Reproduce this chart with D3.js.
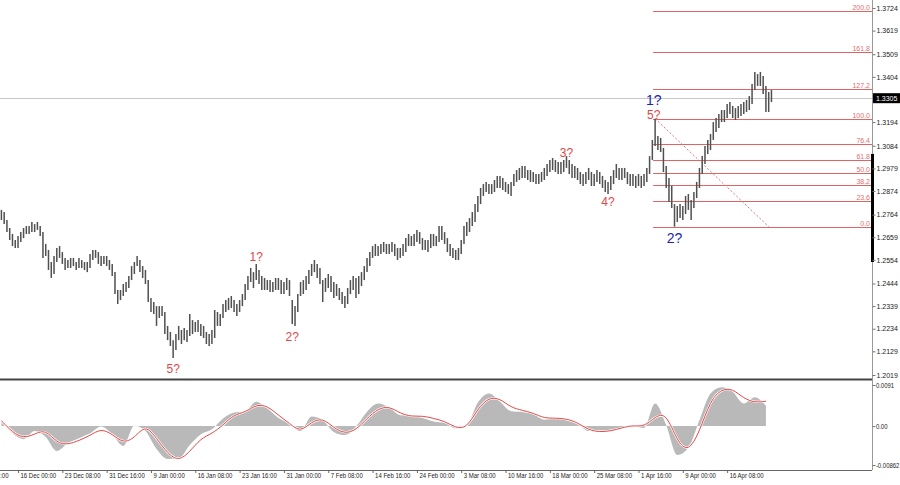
<!DOCTYPE html>
<html><head><meta charset="utf-8">
<script src="https://cdn.jsdelivr.net/npm/d3@7"></script>
<style>
body{margin:0;background:#fff}
svg{display:block}
text{font-family:"Liberation Sans",Arial,sans-serif}
</style>
</head><body>
<svg id="c" width="900" height="485"></svg>
<script>
// ---------- DATA ----------
const highs=[
1.2786,1.2776,1.2739,1.2702,1.2674,1.2646,1.2665,1.2683,1.2702,1.2711,
1.2711,1.2730,1.2720,1.2730,1.2711,1.2683,1.2628,1.2600,1.2544,1.2572,
1.2609,1.2618,1.2590,1.2563,1.2553,1.2563,1.2563,1.2544,1.2563,1.2553,
1.2544,1.2544,1.2581,1.2600,1.2600,1.2590,1.2572,1.2572,1.2572,1.2553,
1.2535,1.2497,1.2414,1.2414,1.2442,1.2451,1.2479,1.2525,1.2544,1.2572,
1.2553,1.2525,1.2507,1.2460,1.2377,1.2358,1.2339,1.2339,1.2339,1.2312,
1.2247,1.2219,1.2181,1.2209,1.2247,1.2228,1.2237,1.2228,1.2302,1.2274,
1.2265,1.2274,1.2256,1.2247,1.2219,1.2209,1.2228,1.2321,1.2312,1.2302,
1.2349,1.2367,1.2377,1.2386,1.2367,1.2349,1.2367,1.2395,1.2442,1.2479,
1.2516,1.2497,1.2535,1.2507,1.2479,1.2470,1.2460,1.2460,1.2451,1.2470,
1.2470,1.2460,1.2451,1.2470,1.2460,1.2367,1.2339,1.2395,1.2451,1.2460,
1.2479,1.2507,1.2535,1.2553,1.2535,1.2516,1.2460,1.2470,1.2488,1.2479,
1.2451,1.2442,1.2423,1.2405,1.2386,1.2423,1.2460,1.2479,1.2470,1.2479,
1.2497,1.2525,1.2563,1.2590,1.2618,1.2628,1.2618,1.2628,1.2637,1.2628,
1.2628,1.2637,1.2628,1.2609,1.2609,1.2628,1.2655,1.2674,1.2665,1.2674,
1.2693,1.2683,1.2655,1.2646,1.2646,1.2674,1.2674,1.2665,1.2711,1.2711,
1.2683,1.2655,1.2628,1.2609,1.2600,1.2609,1.2646,1.2711,1.2730,1.2748,
1.2776,1.2813,1.2851,1.2888,1.2906,1.2916,1.2906,1.2906,1.2925,1.2944,
1.2944,1.2934,1.2916,1.2906,1.2916,1.2953,1.2971,1.2981,1.2990,1.2990,
1.2971,1.2971,1.2962,1.2953,1.2953,1.2962,1.2981,1.2999,1.3018,1.3027,
1.3018,1.3009,1.3009,1.3018,1.3036,1.3018,1.2999,1.2990,1.2981,1.2962,
1.2953,1.2962,1.2981,1.2962,1.2953,1.2971,1.2962,1.2944,1.2925,1.2916,
1.2944,1.2971,1.2999,1.2981,1.2981,1.2981,1.2962,1.2953,1.2953,1.2944,
1.2953,1.2944,1.2953,1.2981,1.3036,1.3111,1.3210,1.3129,1.3120,1.3074,
1.2990,1.2934,1.2897,1.2813,1.2804,1.2813,1.2804,1.2851,1.2860,1.2832,
1.2869,1.2916,1.2981,1.3036,1.3083,1.3111,1.3139,1.3194,1.3213,1.3232,
1.3250,1.3250,1.3278,1.3287,1.3269,1.3259,1.3269,1.3278,1.3287,1.3297,
1.3315,1.3371,1.3427,1.3417,1.3427,1.3408,1.3362,1.3334,1.3343];
const lows=[
1.2739,1.2720,1.2683,1.2646,1.2618,1.2609,1.2609,1.2637,1.2655,1.2674,
1.2674,1.2683,1.2683,1.2693,1.2665,1.2563,1.2572,1.2507,1.2470,1.2488,
1.2544,1.2563,1.2535,1.2507,1.2516,1.2516,1.2525,1.2507,1.2516,1.2516,
1.2507,1.2497,1.2516,1.2553,1.2563,1.2535,1.2525,1.2535,1.2525,1.2507,
1.2479,1.2395,1.2349,1.2367,1.2386,1.2405,1.2423,1.2460,1.2488,1.2525,
1.2497,1.2470,1.2442,1.2358,1.2312,1.2302,1.2247,1.2284,1.2293,1.2209,
1.2181,1.2154,1.2098,1.2135,1.2181,1.2163,1.2181,1.2172,1.2200,1.2209,
1.2219,1.2219,1.2200,1.2191,1.2163,1.2154,1.2163,1.2191,1.2247,1.2247,
1.2284,1.2312,1.2321,1.2330,1.2312,1.2293,1.2312,1.2339,1.2367,1.2414,
1.2451,1.2423,1.2460,1.2442,1.2414,1.2414,1.2414,1.2405,1.2405,1.2414,
1.2414,1.2395,1.2395,1.2414,1.2386,1.2256,1.2247,1.2312,1.2386,1.2395,
1.2414,1.2442,1.2479,1.2497,1.2470,1.2442,1.2358,1.2405,1.2423,1.2405,
1.2377,1.2386,1.2367,1.2349,1.2330,1.2349,1.2395,1.2414,1.2377,1.2395,
1.2432,1.2460,1.2497,1.2525,1.2563,1.2572,1.2572,1.2581,1.2590,1.2581,
1.2581,1.2590,1.2572,1.2553,1.2563,1.2572,1.2590,1.2618,1.2618,1.2618,
1.2637,1.2628,1.2600,1.2600,1.2590,1.2609,1.2618,1.2618,1.2637,1.2646,
1.2628,1.2590,1.2572,1.2563,1.2553,1.2553,1.2581,1.2628,1.2665,1.2683,
1.2711,1.2730,1.2776,1.2813,1.2851,1.2869,1.2860,1.2860,1.2869,1.2888,
1.2888,1.2878,1.2869,1.2860,1.2851,1.2897,1.2916,1.2925,1.2934,1.2934,
1.2925,1.2916,1.2916,1.2906,1.2906,1.2916,1.2925,1.2944,1.2962,1.2971,
1.2962,1.2953,1.2953,1.2962,1.2981,1.2953,1.2934,1.2934,1.2925,1.2906,
1.2897,1.2906,1.2925,1.2897,1.2897,1.2916,1.2906,1.2888,1.2869,1.2860,
1.2878,1.2906,1.2934,1.2925,1.2925,1.2934,1.2906,1.2897,1.2897,1.2888,
1.2897,1.2888,1.2897,1.2916,1.2953,1.3018,1.3083,1.3064,1.3055,1.2962,
1.2888,1.2823,1.2795,1.2708,1.2730,1.2748,1.2739,1.2767,1.2786,1.2739,
1.2795,1.2841,1.2888,1.2953,1.2999,1.3046,1.3064,1.3111,1.3148,1.3167,
1.3194,1.3194,1.3213,1.3232,1.3213,1.3204,1.3213,1.3222,1.3232,1.3241,
1.3250,1.3278,1.3343,1.3362,1.3362,1.3325,1.3241,1.3241,1.3287];

// MACD sampled every 4 bars
const macdHist=[
0.0010,-0.0016,-0.0029,-0.0011,-0.0024,-0.0055,-0.0038,-0.0027,-0.0016,-0.0001,
-0.0018,-0.0044,0.0001,-0.0011,-0.0051,-0.0073,-0.0072,-0.0042,-0.0018,-0.0007,
0.0017,0.0030,0.0033,0.0054,0.0039,0.0018,0.0006,-0.0011,0.0021,0.0013,
-0.0013,-0.0020,-0.0001,0.0032,0.0050,0.0041,0.0024,0.0023,0.0018,0.0010,
0.0007,-0.0005,0.0002,0.0052,0.0072,0.0054,0.0033,0.0031,0.0026,0.0014,
0.0016,0.0015,0.0006,-0.0011,-0.0009,-0.0011,-0.0004,0.0001,-0.0004,0.0050,
0.0002,-0.0064,-0.0048,0.0013,0.0072,0.0086,0.0076,0.0050,0.0064,0.0045];
const macdSignal=[
0.0012,-0.0014,-0.0027,-0.0018,-0.0007,-0.0038,-0.0041,-0.0032,-0.0021,-0.0005,
-0.0018,-0.0038,-0.0027,0.0004,-0.0027,-0.0061,-0.0078,-0.0057,-0.0027,-0.0017,
0.0002,0.0026,0.0030,0.0048,0.0045,0.0024,0.0006,-0.0014,0.0010,0.0018,
-0.0004,-0.0017,-0.0009,0.0017,0.0039,0.0044,0.0028,0.0021,0.0023,0.0017,
0.0011,-0.0004,-0.0005,0.0039,0.0064,0.0061,0.0041,0.0035,0.0029,0.0017,
0.0018,0.0016,0.0008,-0.0009,-0.0013,-0.0011,-0.0004,0.0002,-0.0002,0.0021,
0.0030,-0.0035,-0.0058,-0.0013,0.0058,0.0082,0.0083,0.0061,0.0052,0.0055];

const timeLabels=["6 Dec 16:00","16 Dec 00:00","23 Dec 08:00","31 Dec 16:00","9 Jan 00:00",
"16 Jan 08:00","23 Jan 16:00","31 Jan 00:00","7 Feb 08:00","14 Feb 16:00","24 Feb 00:00",
"3 Mar 08:00","10 Mar 16:00","18 Mar 00:00","25 Mar 08:00","1 Apr 16:00","9 Apr 00:00","16 Apr 08:00"];
const priceTicks=[1.3724,1.3619,1.3509,1.3404,1.3194,1.3084,1.2979,1.2874,1.2764,1.2659,
1.2554,1.2444,1.2339,1.2234,1.2129,1.2019];
const macdTicks=[0.0091,0,-0.00862];
const macdTickLabels=["0.0091","0.00","-0.00862"];
const lastPrice=1.3305;
const fibLow=1.2708, fibHigh=1.3210;
const fibLevels=[0,23.6,38.2,50,61.8,76.4,100,127.2,161.8,200];
const fibHighBar=236, fibLowBar=277;
const scrollMark=[1.3046,1.2544];
const waveLabels=[
 {t:"5?",bar:62,price:1.2047,blue:false},
 {t:"1?",bar:92,price:1.2567,blue:false},
 {t:"2?",bar:105,price:1.2196,blue:false},
 {t:"3?",bar:204,price:1.3050,blue:false},
 {t:"4?",bar:219,price:1.2823,blue:false},
 {t:"5?",bar:235.5,price:1.3228,blue:false},
 {t:"1?",bar:235.5,price:1.3298,blue:true},
 {t:"2?",bar:243,price:1.2656,blue:true}
];

// ---------- LAYOUT ----------
const svg=d3.select("#c");
const axisX=872, mainBottom=379.5, macdBottom=470;
const n=highs.length;
const x=d3.scaleLinear().domain([0,n-1]).range([1.4,1.4+2.77*(n-1)]);
const yP=d3.scaleLinear().domain([1.2019,1.3724]).range([375,8]);
const yM=d3.scaleLinear().domain([-0.00862,0.0091]).range([465,385]);
const RED="#e04848", FIB="#e06464";

// current price line
svg.append("line").attr("x1",0).attr("x2",axisX).attr("y1",Math.round(yP(lastPrice))+0.5).attr("y2",Math.round(yP(lastPrice))+0.5)
  .attr("stroke","#c8c8c8").attr("stroke-width",1);

// fib levels
const fibG=svg.append("g");
const fibX0=x(fibHighBar)-2;
fibLevels.forEach(l=>{
  const p=fibLow+(fibHigh-fibLow)*l/100;
  const yy=Math.round(yP(p))+0.5;
  fibG.append("line").attr("x1",fibX0).attr("x2",axisX).attr("y1",yy).attr("y2",yy)
    .attr("stroke",FIB).attr("stroke-width",1);
  fibG.append("text").attr("x",axisX-2).attr("y",yy-1.5).attr("text-anchor","end")
    .attr("font-size",7).attr("fill","#e07070").text(d3.format(".1f")(l));
});
// dotted trend line
svg.append("line").attr("x1",x(fibHighBar)).attr("y1",yP(fibHigh)).attr("x2",x(fibLowBar)).attr("y2",yP(fibLow))
  .attr("stroke","#e07878").attr("stroke-width",1).attr("stroke-dasharray","2,2");

// price bars
svg.append("g").selectAll("line").data(highs).join("line")
  .attr("x1",(d,i)=>x(i)).attr("x2",(d,i)=>x(i))
  .attr("y1",d=>yP(d)).attr("y2",(d,i)=>yP(lows[i]))
  .attr("stroke","#505050").attr("stroke-width",1.5);

// wave labels
svg.append("g").selectAll("text").data(waveLabels).join("text")
  .attr("x",d=>x(d.bar)).attr("y",d=>yP(d.price))
  .attr("text-anchor","middle").attr("dominant-baseline","central")
  .attr("font-size",d=>d.blue?14:12).attr("fill",d=>d.blue?"#1e1eb4":RED).text(d=>d.t);

// MACD
const mx=(d,j)=>x(j*4);
svg.append("path").datum(macdHist)
  .attr("d",d3.area().x(mx).y0(yM(0)).y1(d=>yM(d)).curve(d3.curveMonotoneX))
  .attr("fill","#b9b9b9");
const sigLine=d3.line().x(mx).y(d=>yM(d)).curve(d3.curveBasis);
svg.append("path").datum(macdSignal).attr("d",sigLine).attr("fill","none").attr("stroke","#fff").attr("stroke-width",2.2);
svg.append("path").datum(macdSignal).attr("d",sigLine).attr("fill","none").attr("stroke",RED).attr("stroke-width",1);

// panel borders
svg.append("line").attr("x1",0).attr("x2",axisX).attr("y1",mainBottom).attr("y2",mainBottom).attr("stroke","#444").attr("stroke-width",2);
svg.append("line").attr("x1",0).attr("x2",axisX).attr("y1",macdBottom+0.5).attr("y2",macdBottom+0.5).attr("stroke","#666").attr("stroke-width",1);
svg.append("line").attr("x1",axisX+0.5).attr("x2",axisX+0.5).attr("y1",0).attr("y2",macdBottom).attr("stroke","#999").attr("stroke-width",1);
svg.append("rect").attr("x",axisX-1).attr("width",3).attr("y",yP(scrollMark[0])).attr("height",yP(scrollMark[1])-yP(scrollMark[0])).attr("fill","#000");

// right price axis
const ra=svg.append("g").attr("transform",`translate(${axisX+0.5},0)`)
  .call(d3.axisRight(yP).tickValues(priceTicks).tickSize(3).tickPadding(1).tickFormat(d3.format(".4f")));
ra.select(".domain").remove();
ra.selectAll("line").attr("stroke","#777");
ra.selectAll("text").attr("font-size",7).attr("fill","#222").attr("font-family","Liberation Sans, Arial, sans-serif");

// last price box
svg.append("rect").attr("x",axisX+1).attr("y",yP(lastPrice)-5).attr("width",27).attr("height",10).attr("fill","#000");
svg.append("text").attr("x",axisX+4).attr("y",yP(lastPrice)).attr("dominant-baseline","central")
  .attr("font-size",7).attr("fill","#fff").text(d3.format(".4f")(lastPrice));

// macd axis
const ma=svg.append("g").attr("transform",`translate(${axisX+0.5},0)`)
  .call(d3.axisRight(yM).tickValues(macdTicks).tickSize(3).tickPadding(1).tickFormat((d,k)=>macdTickLabels[k]));
ma.select(".domain").remove();
ma.selectAll("line").attr("stroke","#777");
ma.selectAll("text").attr("font-size",7).attr("fill","#222").attr("font-family","Liberation Sans, Arial, sans-serif")
  .attr("transform","scale(0.85,1)");

// time axis
const tickBars=timeLabels.map((t,k)=>6+16*(k-1));
const ta=svg.append("g").attr("transform",`translate(0,${macdBottom})`)
  .call(d3.axisBottom(x).tickValues(tickBars).tickSize(3).tickSizeOuter(0).tickFormat((d,k)=>timeLabels[k]));
ta.select(".domain").remove();
ta.selectAll("line").attr("stroke","#666");
ta.selectAll("text").attr("text-anchor","start").attr("dx",2.5).attr("y",3)
  .attr("font-size",7.5).attr("fill","#222").attr("font-family","Liberation Sans, Arial, sans-serif")
  .attr("transform","scale(0.8,1)");
</script>
</body></html>
